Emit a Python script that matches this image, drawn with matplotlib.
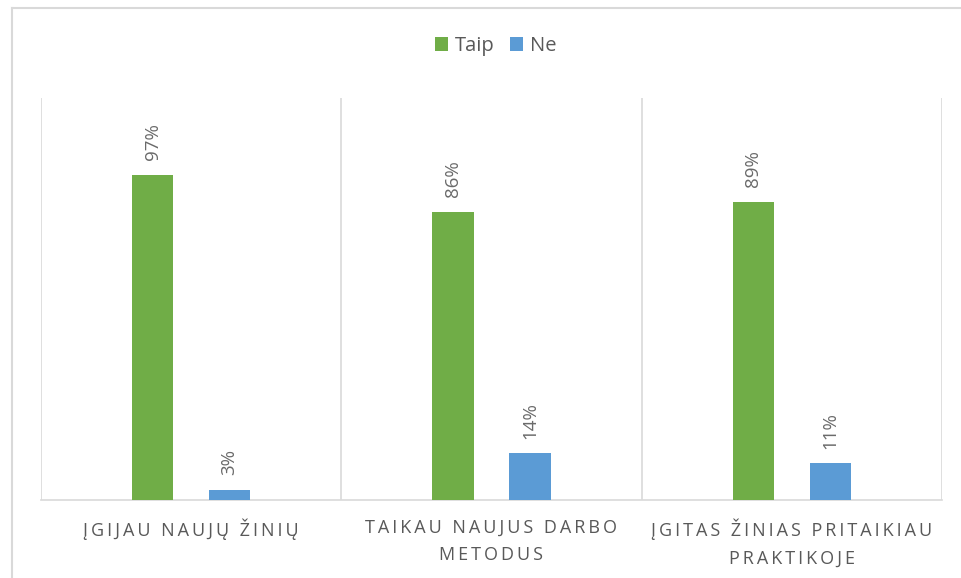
import matplotlib
matplotlib.use("Agg")
import matplotlib.pyplot as plt
import numpy as np
from matplotlib.lines import Line2D

plt.rcParams['font.family'] = ['Open Sans', 'DejaVu Sans']

categories = ["ĮGIJAU NAUJŲ ŽINIŲ", "TAIKAU NAUJUS DARBO\nMETODUS", "ĮGITAS ŽINIAS PRITAIKIAU\nPRAKTIKOJE"]
series_names = ["Taip", "Ne"]
taip = [97, 86, 89]
ne = [3, 14, 11]
colors = ["#70AD47", "#5B9BD5"]
text_color = "#595959"
grid_color = "#D9D9D9"

W, H = 962, 578
fig = plt.figure(figsize=(W / 100, H / 100), dpi=100)

# outer chart border (left and top visible)
fig.add_artist(Line2D([11.5 / W, 11.5 / W], [0, 1 - 7.5 / H], transform=fig.transFigure, color=grid_color, lw=1.5))
fig.add_artist(Line2D([11.5 / W, 1], [1 - 7.5 / H, 1 - 7.5 / H], transform=fig.transFigure, color=grid_color, lw=1.5))

ax = fig.add_axes([41 / W, 1 - 500 / H, (942 - 41) / W, (500 - 98) / H])
x = np.arange(len(categories))
bw = 0.137
off = 0.128
for vals, c, sgn, name in [(taip, colors[0], -1, series_names[0]), (ne, colors[1], 1, series_names[1])]:
    bars = ax.bar(x + sgn * off, vals, width=bw, color=c, label=name, zorder=3)
    for b, v in zip(bars, vals):
        ax.annotate(f"{v}%", (b.get_x() + b.get_width() / 2, b.get_height()),
                    xytext=(0, 10.5), textcoords="offset points", rotation=90,
                    ha="center", va="bottom", fontsize=13.5, color="#6a6a6a")

ax.set_xlim(-0.5, len(categories) - 0.5)
ax.set_ylim(0, 120)
ax.set_yticks([])
ax.set_xticks([])
for s in ["top", "right", "left"]:
    ax.spines[s].set_visible(False)
ax.spines["bottom"].set_color(grid_color)
ax.spines["bottom"].set_linewidth(1.2)
for b in np.arange(-0.5, len(categories), 1.0):
    ax.axvline(b, color=grid_color, lw=1.2, zorder=1)

def spaced(s):
    return "\n".join("\u2009".join(list(line)) for line in s.split("\n"))

for xi, cat in zip(x, categories):
    ax.text(xi, -0.047, spaced(cat), transform=ax.get_xaxis_transform(), ha="center", va="top",
            fontsize=13, color=text_color, linespacing=1.66)

leg = fig.legend(loc="center", bbox_to_anchor=(496 / W, 1 - 46 / H), ncol=2, frameon=False,
                 fontsize=14.5, handlelength=0.65, handleheight=0.65, handletextpad=0.35,
                 columnspacing=0.75, labelcolor=text_color)

fig.savefig("out.png", dpi=100)
